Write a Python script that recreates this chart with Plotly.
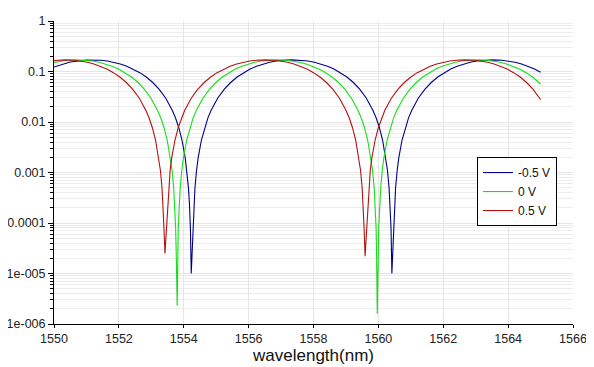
import plotly.graph_objects as go

# ---- data (wavelength in nm, transmission) ----
wl_m05 = [1550.0, 1550.5, 1551.0, 1551.155, 1551.445, 1551.645, 1551.845, 1552.045, 1552.245, 1552.445,
          1552.645, 1552.845, 1553.045, 1553.245, 1553.445, 1553.645, 1553.745, 1553.845, 1553.945, 1554.045,
          1554.095, 1554.145, 1554.175, 1554.205, 1554.231, 1554.275, 1554.305, 1554.345, 1554.395, 1554.445,
          1554.545, 1554.645, 1554.745, 1554.845, 1555.045, 1555.245, 1555.445, 1555.645, 1555.845, 1556.045,
          1556.245, 1556.445, 1556.645, 1556.845, 1557.045, 1557.34, 1557.63, 1557.83, 1558.03, 1558.23,
          1558.43, 1558.63, 1558.83, 1559.03, 1559.23, 1559.43, 1559.63, 1559.83, 1559.93, 1560.03,
          1560.13, 1560.23, 1560.28, 1560.33, 1560.36, 1560.39, 1560.416, 1560.46, 1560.49, 1560.53,
          1560.58, 1560.63, 1560.73, 1560.83, 1560.93, 1561.03, 1561.23, 1561.43, 1561.63, 1561.83,
          1562.03, 1562.23, 1562.43, 1562.63, 1562.83, 1563.03, 1563.23, 1563.52, 1563.815, 1564.015,
          1564.215, 1564.415, 1564.615, 1564.815, 1565.0]
t_m05 = [0.1225, 0.154, 0.169, 0.170, 0.1669, 0.1609, 0.1521, 0.1407, 0.1271, 0.1117,
         0.0949, 0.0777, 0.0605, 0.0442, 0.0295, 0.0171, 0.0121, 0.0078, 0.0044, 0.00197,
         0.00111, 0.000495, 0.000243, 7.9e-5, 1.0e-5, 4.4e-5, 1.78e-4, 0.000495, 0.00111, 0.00197,
         0.0044, 0.0078, 0.0121, 0.0171, 0.0295, 0.0442, 0.0605, 0.0777, 0.0949, 0.1117,
         0.1271, 0.1407, 0.1521, 0.1609, 0.1669, 0.170, 0.1669, 0.1609, 0.1521, 0.1407,
         0.1271, 0.1117, 0.0949, 0.0777, 0.0605, 0.0442, 0.0295, 0.0171, 0.0121, 0.0078,
         0.0044, 0.00197, 0.00111, 0.000495, 0.000243, 7.9e-5, 1.0e-5, 4.4e-5, 1.78e-4, 0.000495,
         0.00111, 0.00197, 0.0044, 0.0078, 0.0121, 0.0171, 0.0295, 0.0442, 0.0605, 0.0777,
         0.0949, 0.1117, 0.1271, 0.1407, 0.1521, 0.1609, 0.1669, 0.170, 0.1669, 0.1609,
         0.1521, 0.1407, 0.1271, 0.1117, 0.0962]

wl_0 = [1550.0, 1550.4, 1550.70, 1550.99, 1551.19, 1551.39, 1551.59, 1551.79, 1551.99, 1552.19,
        1552.39, 1552.59, 1552.79, 1552.99, 1553.19, 1553.29, 1553.39, 1553.49, 1553.59, 1553.64,
        1553.69, 1553.72, 1553.75, 1553.765, 1553.797, 1553.83, 1553.86, 1553.89, 1553.94, 1553.99,
        1554.09, 1554.19, 1554.29, 1554.39, 1554.59, 1554.79, 1554.99, 1555.19, 1555.39, 1555.59,
        1555.79, 1555.99, 1556.19, 1556.39, 1556.59, 1556.88, 1557.17, 1557.37, 1557.57, 1557.77,
        1557.97, 1558.17, 1558.37, 1558.57, 1558.77, 1558.97, 1559.17, 1559.37, 1559.47, 1559.57,
        1559.67, 1559.77, 1559.82, 1559.87, 1559.90, 1559.93, 1559.945, 1559.962, 1559.966, 1560.01,
        1560.04, 1560.07, 1560.12, 1560.17, 1560.27, 1560.37, 1560.47, 1560.57, 1560.77, 1560.97,
        1561.17, 1561.37, 1561.57, 1561.77, 1561.97, 1562.17, 1562.37, 1562.57, 1562.77, 1563.06,
        1563.35, 1563.55, 1563.75, 1563.95, 1564.15, 1564.35, 1564.55, 1564.75, 1564.95, 1565.0]
t_0 = [0.1517, 0.1666, 0.170, 0.1669, 0.1609, 0.1521, 0.1407, 0.1271, 0.1117, 0.0949,
       0.0777, 0.0605, 0.0442, 0.0295, 0.0171, 0.0121, 0.0078, 0.0044, 0.00197, 0.00111,
       0.000495, 0.000243, 7.9e-5, 3.1e-5, 2.3e-6, 7.9e-5, 0.000243, 0.000495, 0.00111, 0.00197,
       0.0044, 0.0078, 0.0121, 0.0171, 0.0295, 0.0442, 0.0605, 0.0777, 0.0949, 0.1117,
       0.1271, 0.1407, 0.1521, 0.1609, 0.1669, 0.170, 0.1669, 0.1609, 0.1521, 0.1407,
       0.1271, 0.1117, 0.0949, 0.0777, 0.0605, 0.0442, 0.0295, 0.0171, 0.0121, 0.0078,
       0.0044, 0.00197, 0.00111, 0.000495, 0.000243, 7.9e-5, 2.3e-5, 3.2e-6, 1.6e-6, 7.9e-5,
       0.000243, 0.000495, 0.00111, 0.00197, 0.0044, 0.0078, 0.0121, 0.0171, 0.0295, 0.0442,
       0.0605, 0.0777, 0.0949, 0.1117, 0.1271, 0.1407, 0.1521, 0.1609, 0.1669, 0.170,
       0.1669, 0.1609, 0.1521, 0.1407, 0.1271, 0.1117, 0.0949, 0.0777, 0.0605, 0.0563]

wl_p05 = [1550.0, 1550.345, 1550.63, 1550.83, 1551.03, 1551.23, 1551.43, 1551.63, 1551.83, 1552.03,
          1552.23, 1552.43, 1552.63, 1552.83, 1552.93, 1553.03, 1553.13, 1553.23, 1553.28, 1553.33,
          1553.36, 1553.39, 1553.42, 1553.45, 1553.48, 1553.53, 1553.58, 1553.63, 1553.73, 1553.83,
          1553.93, 1554.03, 1554.23, 1554.43, 1554.63, 1554.83, 1555.03, 1555.23, 1555.43, 1555.63,
          1555.83, 1556.03, 1556.23, 1556.515, 1556.80, 1557.00, 1557.20, 1557.40, 1557.60, 1557.80,
          1558.00, 1558.20, 1558.40, 1558.60, 1558.80, 1559.00, 1559.10, 1559.20, 1559.30, 1559.40,
          1559.45, 1559.50, 1559.53, 1559.56, 1559.59, 1559.62, 1559.65, 1559.70, 1559.75, 1559.80,
          1559.90, 1560.00, 1560.10, 1560.20, 1560.40, 1560.60, 1560.80, 1561.00, 1561.20, 1561.40,
          1561.60, 1561.80, 1562.00, 1562.20, 1562.40, 1562.685, 1562.97, 1563.17, 1563.37, 1563.57,
          1563.77, 1563.97, 1564.17, 1564.37, 1564.57, 1564.77, 1564.97, 1565.0]
t_p05 = [0.1653, 0.170, 0.1669, 0.1609, 0.1521, 0.1407, 0.1271, 0.1117, 0.0949, 0.0777,
         0.0605, 0.0442, 0.0295, 0.0171, 0.0121, 0.0078, 0.0044, 0.00197, 0.00111, 0.000495,
         0.000243, 7.9e-5, 2.5e-5, 5.5e-5, 0.000124, 0.000495, 0.00111, 0.00197, 0.0044, 0.0078,
         0.0121, 0.0171, 0.0295, 0.0442, 0.0605, 0.0777, 0.0949, 0.1117, 0.1271, 0.1407,
         0.1521, 0.1609, 0.1669, 0.170, 0.1669, 0.1609, 0.1521, 0.1407, 0.1271, 0.1117,
         0.0949, 0.0777, 0.0605, 0.0442, 0.0295, 0.0171, 0.0121, 0.0078, 0.0044, 0.00197,
         0.00111, 0.000495, 0.000243, 7.9e-5, 2.2e-5, 5.0e-5, 0.000124, 0.000495, 0.00111, 0.00197,
         0.0044, 0.0078, 0.0121, 0.0171, 0.0295, 0.0442, 0.0605, 0.0777, 0.0949, 0.1117,
         0.1271, 0.1407, 0.1521, 0.1609, 0.1669, 0.170, 0.1669, 0.1609, 0.1521, 0.1407,
         0.1271, 0.1117, 0.0949, 0.0777, 0.0605, 0.0442, 0.0295, 0.0275]

series_names = ["-0.5 V", "0 V", "0.5 V"]
series_colors = ["#00008a", "#18dd18", "#b01212"]

x_tickvals = [1550, 1552, 1554, 1556, 1558, 1560, 1562, 1564, 1566]
y_tickvals = [1e-6, 1e-5, 1e-4, 1e-3, 1e-2, 1e-1, 1]
y_ticktext = ["1e-006", "1e-005", "0.0001", "0.001", "0.01", "0.1", "1"]

FONT = "Liberation Sans, Arial, sans-serif"

fig = go.Figure()
for wl, t, name, col in zip([wl_m05, wl_0, wl_p05], [t_m05, t_0, t_p05], series_names, series_colors):
    fig.add_trace(go.Scatter(x=wl, y=t, mode="lines", name=name,
                             line=dict(color=col, width=1.1)))

minor_y = [m * 10.0 ** e for e in range(-6, 0) for m in range(2, 10)]

# the page body has an 8px margin, so the figure is sized/offset to compensate
fig.update_layout(
    width=586, height=359,
    margin=dict(l=46, r=21, t=13, b=43),
    paper_bgcolor="white", plot_bgcolor="white",
    font=dict(family=FONT, size=12.5, color="#222"),
    showlegend=True,
    legend=dict(x=0.815, y=0.551, xanchor="left", yanchor="top",
                bgcolor="white", bordercolor="black", borderwidth=1,
                font=dict(family=FONT, size=12, color="#111"),
                tracegroupgap=0, itemwidth=30),
)
fig.update_xaxes(
    range=[1550, 1566], tickmode="array", tickvals=x_tickvals,
    ticks="outside", ticklen=3, tickcolor="black",
    showline=True, linecolor="black", linewidth=1,
    showgrid=True, gridcolor="#e6e6e6", gridwidth=1,
    zeroline=False, automargin=False,
    title=dict(text="wavelength(nm)", font=dict(family=FONT, size=17, color="#111"), standoff=0),
)
fig.update_yaxes(
    type="log", range=[-6, 0], tickmode="array", tickvals=y_tickvals, ticktext=y_ticktext,
    ticks="outside", ticklen=5, tickcolor="black",
    showline=True, linecolor="black", linewidth=1,
    showgrid=True, gridcolor="#e6e6e6", gridwidth=1,
    zeroline=False, automargin=False,
    minor=dict(tickmode="array", tickvals=minor_y, ticks="outside", ticklen=3,
               tickcolor="black", showgrid=True, gridcolor="#ededed", gridwidth=1),
)

fig.write_html("out.html")
